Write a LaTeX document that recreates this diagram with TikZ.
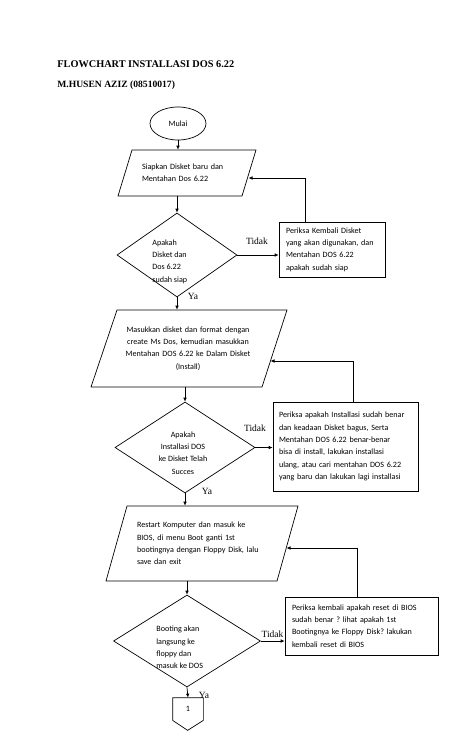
\documentclass[tikz,border=0pt]{standalone}
\usepackage{fontspec}
\setmainfont{Carlito}
\newfontfamily\judulfont{Liberation Serif}
\usetikzlibrary{arrows.meta, shapes.geometric}

\begin{document}
\frenchspacing
\begin{tikzpicture}[x=1pt, y=-1pt, >={Latex[length=4pt, width=3.6pt]}, line width=0.7pt,
    every node/.style={font=\fontsize{8.1}{12.4}\selectfont},
    proses/.style={align=left, inner sep=0pt},
    cek/.style={draw, diamond, inner sep=0pt},
    kotak/.style={draw, rectangle, align=left, inner ysep=2pt},
    isi/.style={align=left, inner sep=0pt},
    jawab/.style={font=\judulfont\fontsize{9.5}{11}\selectfont, inner sep=0pt}]

    \useasboundingbox (0,0) rectangle (474,744);

    % --- TITLE ---
    \node[anchor=base west, inner sep=0pt, font=\judulfont\bfseries\fontsize{10.3}{12}\selectfont] (judul) at (57,67) {FLOWCHART INSTALLASI DOS 6.22};
    \node[anchor=base west, inner sep=0pt, font=\judulfont\bfseries\fontsize{9.6}{12}\selectfont] (nama) at (57,87) {M.HUSEN AZIZ (08510017)};

    % --- FIRST BLOCK: DISKET ---
    \node[draw, ellipse, minimum width=56pt, minimum height=33pt] (mulai) at (178,123.5) {Mulai};

    \draw (132,150) -- (256,150) -- (242,196) -- (118,196) -- cycle;
    \node[proses, minimum height=46pt, text width=92pt] (p1) at (188,173) {Siapkan Disket baru dan\\Mentahan Dos 6.22};

    \node[cek, minimum width=120pt, minimum height=84pt] (d1) at (177,255) {};
    \node[isi, anchor=west] (t1) at (152,261.5) {Apakah\\Disket dan\\Dos 6.22\\sudah siap};

    \node[kotak, text width=92pt, inner xsep=7pt, minimum height=55pt] (b1) at (332,249.5)
        {Periksa Kembali Disket\\yang akan digunakan, dan\\Mentahan DOS 6.22\\apakah sudah siap};

    \draw[->] (mulai.south) -- (mulai.south |- p1.north);
    \draw[->] (d1.north |- p1.south) -- (d1.north);
    \draw[->] (d1.east) -- (d1.east -| b1.west);
    \node[jawab] (tidak1) at (257,241) {Tidak};
    \node[jawab] (ya1) at (193,296) {Ya};

    % back to the first step
    \coordinate (r1) at (248.5,178);
    \draw[->] ([xshift=-27pt]b1.north) |- (r1);

    % --- SECOND BLOCK: INSTALL ---
    \draw (117,310) -- (287,310) -- (262,387) -- (91,387) -- cycle;
    \node[proses, align=center, minimum height=77pt, text width=150pt] (p2) at (188,348.5)
        {Masukkan disket dan format dengan\\create Ms Dos, kemudian masukkan\\Mentahan DOS 6.22 ke Dalam Disket\\(Install)};

    \node[cek, minimum width=140pt, minimum height=91pt] (d2) at (185,447.5) {};
    \node[isi, align=center] (t2) at (183,453) {Apakah\\Installasi DOS\\ke Disket Telah\\Succes};

    \node[kotak, text width=133pt, inner xsep=6pt, minimum height=89pt] (b2) at (345.5,446.5)
        {Periksa apakah Installasi sudah benar\\dan keadaan Disket bagus, Serta\\Mentahan DOS 6.22 benar-benar\\bisa di install, lakukan installasi\\ulang, atau cari mentahan DOS 6.22\\yang baru dan lakukan lagi installasi};

    \draw[->] (d1.south) -- (d1.south |- p2.north);
    \draw[->] (d2.north |- p2.south) -- (d2.north);
    \draw[->] (d2.east) -- (d2.east -| b2.west);
    \node[jawab] (tidak2) at (255,428) {Tidak};
    \node[jawab] (ya2) at (207,491) {Ya};

    \coordinate (r2) at (270.5,361);
    \draw[->] ([xshift=7.5pt]b2.north) |- (r2);

    % --- THIRD BLOCK: BIOS ---
    \draw (127,506) -- (298,506) -- (277,581) -- (106,581) -- cycle;
    \node[proses, minimum height=75pt, text width=134pt] (p3) at (204,543.5)
        {Restart Komputer dan masuk ke\\BIOS, di menu Boot ganti 1st\\bootingnya dengan Floppy Disk, lalu\\save dan exit};

    \node[cek, minimum width=147pt, minimum height=92pt] (d3) at (187,641) {};
    \node[isi, anchor=west] (t3) at (156,647.5) {Booting akan\\langsung ke\\floppy dan\\masuk ke DOS};

    \node[kotak, text width=139pt, inner xsep=7pt, minimum height=58pt] (b3) at (361.5,626)
        {Periksa kembali apakah reset di BIOS\\sudah benar ? lihat apakah 1st\\Bootingnya ke Floppy Disk? lakukan\\kembali reset di BIOS};

    \draw[->] (d2.south) -- (d2.south |- p3.north);
    \draw[->] (d3.north |- p3.south) -- (d3.north);
    \draw[->] (d3.east) -- (d3.east -| b3.west);
    \node[jawab] (tidak3) at (272.5,634) {Tidak};

    \coordinate (r3) at (286.5,548);
    \draw[->] ([xshift=-4.5pt]b3.north) |- (r3);

    % off-page connector
    \node[minimum width=30pt, minimum height=22pt, inner sep=0pt] (hal1) at (188,709) {1};
    \draw (hal1.north west) -- (hal1.south west) -- ++(15,10) -- (hal1.south east) -- (hal1.north east) -- cycle;
    \draw[->] (d3.south) -- (hal1.north);
    \node[jawab] (ya3) at (204,695) {Ya};

\end{tikzpicture}
\end{document}
